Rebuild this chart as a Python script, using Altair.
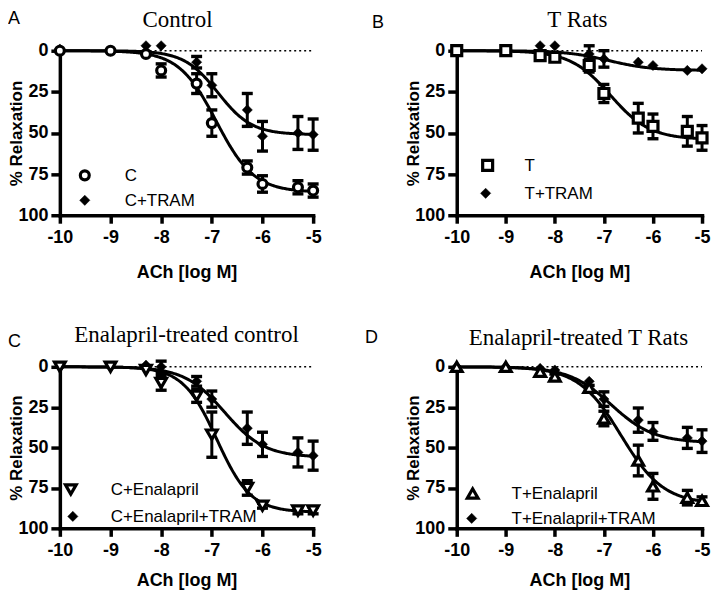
import altair as alt
import pandas as pd

LOG_ACH = [-10, -9, -8.3, -8, -7.3, -7, -6.3, -6, -5.3, -5]
X_TICKS = [-10, -9, -8, -7, -6, -5]
Y_TICKS = [0, 25, 50, 75, 100]

# Panel A - Control
C_MEAN = [0, 0, 2, 12, 20, 44, 71, 81, 83, 85]
C_SEM = [0, 0, 0, 4, 6, 8, 4, 5, 4, 4]
CT_MEAN = [-1, 0, -3, -3, 7, 21, 36, 52, 50, 51]
CT_SEM = [0, 0, 0, 0, 3.5, 7, 10, 9, 10, 9.5]
C_FIT = [86, -6.91, 1.17]     # top, logEC50, hill
CT_FIT = [51, -6.88, 1.3]

# Panel B - T Rats
T_MEAN = [0, 0, 3, 4, 9, 26, 41, 46, 49, 53]
T_SEM = [0, 0, 2, 2, 4, 5.5, 9, 7.5, 9, 7.5]
TT_MEAN = [0, 0, -3, -3, 2, 5, 7, 9, 12, 11]
TT_SEM = [0, 0, 0, 0, 5, 5, 0, 0, 0, 0]
T_FIT = [54, -6.87, 1.07]
TT_FIT = [12, -6.9, 1.0]

# Panel C - Enalapril-treated control
CE_MEAN = [0, 0, 2, 10, 18, 42, 75, 86, 89, 89]
CE_SEM = [0, 0, 0, 4.5, 4, 14, 4.5, 1.5, 2, 2]
CET_MEAN = [0, 0, -1, 0, 9, 20, 38, 48, 53, 55]
CET_SEM = [0, 0, 0, 3.5, 3, 5, 10, 7.5, 9, 9]
CE_FIT = [90, -6.9, 1.3]
CET_FIT = [56, -6.75, 1.1]

# Panel D - Enalapril-treated T Rats
TE_MEAN = [0, 0, 3, 6, 13, 32, 58, 74, 81, 83]
TE_SEM = [0, 0, 0, 1.5, 1.5, 4.5, 9.5, 8, 4.5, 2.5]
TET_MEAN = [0, 0, 1, 2, 9, 20, 33, 40, 44, 46]
TET_SEM = [0, 0, 0, 0, 0, 4.5, 7.5, 5.5, 6.5, 7]
TE_FIT = [85, -6.65, 1.0]
TET_FIT = [47, -6.85, 1.0]

SANS = "Liberation Sans"
SERIF = "Liberation Serif"


def make_axes(h, xtitle_y):
    xaxis = alt.Axis(values=X_TICKS, labelExpr="datum.value + ''", title="ACh [log M]",
                     titleFont=SANS, titleFontSize=18, titleFontWeight="bold", titleColor="black",
                     titleY=xtitle_y, titleBaseline="alphabetic",
                     labelFont=SANS, labelFontSize=18, labelFontWeight="bold", labelColor="black",
                     labelPadding=5, labelFlush=False, labelOverlap=False,
                     tickSize=8, tickWidth=3.5, tickColor="black",
                     domainWidth=3.5, domainColor="black", domainCap="square", grid=False)
    yaxis = alt.Axis(values=Y_TICKS, title="% Relaxation",
                     titleFont=SANS, titleFontSize=17, titleFontWeight="bold", titleColor="black",
                     titleX=-38, titleY=h / 2, titleBaseline="alphabetic",
                     labelFont=SANS, labelFontSize=18, labelFontWeight="bold", labelColor="black",
                     labelPadding=3, labelFlush=False, labelOverlap=False,
                     tickSize=9, tickWidth=3.5, tickColor="black",
                     domainWidth=3.5, domainColor="black", domainCap="square", grid=False)
    return xaxis, yaxis


def marker(s, data):
    if s["filled"]:
        return alt.Chart(data).mark_point(shape=s["shape"], size=s["size"], filled=True,
                                          fill="black", stroke="black", strokeWidth=0.5, opacity=1)
    return alt.Chart(data).mark_point(shape=s["shape"], size=s["size"], filled=True,
                                      fill="white", stroke="black", strokeWidth=3.2, opacity=1)


def panel(letter, letter_xy, title, title_xy, series, w, h, xtitle_y):
    xaxis, yaxis = make_axes(h, xtitle_y)
    xs = alt.Scale(domain=[-10, -5], nice=False, zero=False)
    ys = alt.Scale(domain=[0, 100], reverse=True, nice=False, zero=False)

    def X(f="x"):
        return alt.X(f"{f}:Q", scale=xs, axis=xaxis, title="ACh [log M]")

    def Y(f="y"):
        return alt.Y(f"{f}:Q", scale=ys, axis=yaxis, title="% Relaxation")

    layers = []
    base_line = pd.DataFrame({"x": [-10], "x2": [-5], "y": [0]})
    layers.append(alt.Chart(base_line).mark_rule(color="black", strokeWidth=1.6, strokeDash=[2, 3])
                  .encode(x=X(), x2="x2:Q", y=Y()))
    for s in series:
        top, ec, hill = s["fit"]
        layers.append(
            alt.Chart(alt.sequence(-10, -4.99, 0.02, as_="x"))
            .transform_calculate(y=f"{top}/(1+pow(10,({ec}-datum.x)*{hill}))")
            .mark_line(color="black", strokeWidth=3)
            .encode(x=X(), y=Y())
        )
    for s in series:
        df = pd.DataFrame({"x": LOG_ACH, "y": s["mean"], "sem": s["sem"]})
        df["lo"] = df["y"] - df["sem"]
        df["hi"] = df["y"] + df["sem"]
        eb = alt.Chart(df).transform_filter("datum.sem > 0")
        layers.append(eb.mark_rule(color="black", strokeWidth=3, opacity=1)
                      .encode(x=X(), y=Y("lo"), y2="hi:Q"))
        layers.append(eb.mark_tick(color="black", orient="horizontal", size=11, thickness=3.4, opacity=1)
                      .encode(x=X(), y=Y("lo")))
        layers.append(eb.mark_tick(color="black", orient="horizontal", size=11, thickness=3.4, opacity=1)
                      .encode(x=X(), y=Y("hi")))
    # filled diamonds first, open markers on top
    for s in sorted(series, key=lambda d: not d["filled"]):
        df = pd.DataFrame({"x": LOG_ACH, "y": s["mean"]})
        layers.append(marker(s, df).encode(x=X(), y=Y()))
    for s in series:
        lx, ly = s["legend"]
        layers.append(marker(s, pd.DataFrame({"a": [0]})).encode(x=alt.value(lx), y=alt.value(ly)))
        layers.append(
            alt.Chart(pd.DataFrame({"t": [s["name"]]}))
            .mark_text(font=SANS, fontSize=17, color="black", align="left", baseline="middle")
            .encode(text="t:N", x=alt.value(lx + s["label_dx"]), y=alt.value(ly + 1))
        )
    layers.append(
        alt.Chart(pd.DataFrame({"t": [title]}))
        .mark_text(font=SERIF, fontSize=23, color="black", align="center", baseline="alphabetic")
        .encode(text="t:N", x=alt.value(title_xy[0]), y=alt.value(title_xy[1]))
    )
    layers.append(
        alt.Chart(pd.DataFrame({"t": [letter]}))
        .mark_text(font=SANS, fontSize=18, color="black", align="left", baseline="alphabetic")
        .encode(text="t:N", x=alt.value(letter_xy[0]), y=alt.value(letter_xy[1]))
    )
    return alt.layer(*layers).properties(width=w, height=h)


pA = panel("A", (-52, -27), "Control", (118, -24), [
    dict(name="C", mean=C_MEAN, sem=C_SEM, fit=C_FIT, shape="circle", size=80, filled=False,
         legend=(25, 125), label_dx=40),
    dict(name="C+TRAM", mean=CT_MEAN, sem=CT_SEM, fit=CT_FIT, shape="diamond", size=105, filled=True,
         legend=(25, 150), label_dx=40),
], 254, 165, 62)

pB = panel("B", (-85, -23), "T Rats", (121, -24), [
    dict(name="T", mean=T_MEAN, sem=T_SEM, fit=T_FIT, shape="square", size=100, filled=False,
         legend=(31, 115), label_dx=37),
    dict(name="T+TRAM", mean=TT_MEAN, sem=TT_SEM, fit=TT_FIT, shape="diamond", size=105, filled=True,
         legend=(29, 143), label_dx=39),
], 246, 165, 62)

pC = panel("C", (-52, -20), "Enalapril-treated control", (127, -25), [
    dict(name="C+Enalapril", mean=CE_MEAN, sem=CE_SEM, fit=CE_FIT, shape="triangle-down", size=115,
         filled=False, legend=(11, 123), label_dx=40),
    dict(name="C+Enalapril+TRAM", mean=CET_MEAN, sem=CET_SEM, fit=CET_FIT, shape="diamond", size=105,
         filled=True, legend=(13, 150), label_dx=38),
], 254, 162, 57)

pD = panel("D", (-92, -24), "Enalapril-treated T Rats", (122, -22), [
    dict(name="T+Enalapril", mean=TE_MEAN, sem=TE_SEM, fit=TE_FIT, shape="triangle-up", size=115,
         filled=False, legend=(16, 127), label_dx=39),
    dict(name="T+Enalapril+TRAM", mean=TET_MEAN, sem=TET_SEM, fit=TET_FIT, shape="diamond", size=105,
         filled=True, legend=(15, 152), label_dx=40),
], 246, 162, 57)

chart = (alt.concat(pA, pB, pC, pD, columns=2,
                    spacing=alt.RowColnumber(row=152, column=144),
                    bounds="flush")
         .properties(padding=0, background="white")
         .configure_view(stroke=None))

chart.save("out.html", embed_options={"renderer": "svg", "actions": False})
